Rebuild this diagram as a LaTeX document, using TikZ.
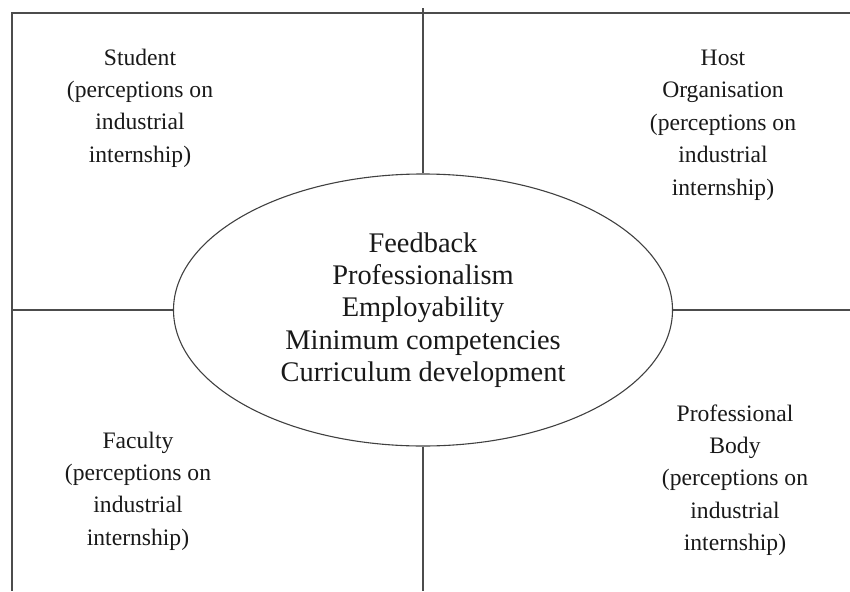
\documentclass[tikz,border=0pt]{standalone}
\usepackage{fontspec}
\setmainfont{Liberation Serif}
\usepackage{tikz}
\usetikzlibrary{
    shapes.geometric,
    calc,
}

\begin{document}
\begin{tikzpicture}[x=1pt,y=-1pt]

    \tikzstyle{commonNode}=[align=center, text=black!90]
    \tikzstyle{hub}=[commonNode, ellipse, draw=black!75, line width=1.1pt, inner sep=0pt, minimum width=499pt, minimum height=272pt, font=\fontsize{28.4}{32.4}\selectfont]
    \tikzstyle{party}=[commonNode, font=\fontsize{23.6}{32.4}\selectfont]
    \tikzstyle{divider}=[draw=black!70, line width=1.2pt]

    \useasboundingbox (0,0) rectangle (850,591);

    % Frame edges
    \def \frametop {13}
    \def \frameleft {12}

    % Central issues
    \node at (423,310) [hub] (Hub) {Feedback \\ Professionalism \\ Employability \\ Minimum competencies \\ Curriculum development};

    % Stakeholders
    \node at (140,108) [party] (Student)      {Student \\ (perceptions on \\ industrial \\ internship)};
    \node at (723,125) [party] (Host)         {Host \\ Organisation \\ (perceptions on \\ industrial \\ internship)};
    \node at (138,491) [party] (Faculty)      {Faculty \\ (perceptions on \\ industrial \\ internship)};
    \node at (735,480) [party] (Professional) {Professional \\ Body \\ (perceptions on \\ industrial \\ internship)};

    % Ends of the dividing lines
    \coordinate (topEnd)    at (Hub.north |- 0,8);
    \coordinate (bottomEnd) at (Hub.south |- 0,591);
    \coordinate (leftEnd)   at (\frameleft,0 |- Hub.west);
    \coordinate (rightEnd)  at (850,0 |- Hub.east);
    \coordinate (cornerTR)  at (850,\frametop);
    \coordinate (cornerTL)  at (\frameleft,\frametop);
    \coordinate (cornerBL)  at (\frameleft,591);

    \draw [divider] (cornerTR) -- (cornerTL) -- (cornerBL);
    \draw [divider] (Hub.north) -- (topEnd);
    \draw [divider] (Hub.south) -- (bottomEnd);
    \draw [divider] (Hub.west) -- (leftEnd);
    \draw [divider] (Hub.east) -- (rightEnd);

\end{tikzpicture}
\end{document}
